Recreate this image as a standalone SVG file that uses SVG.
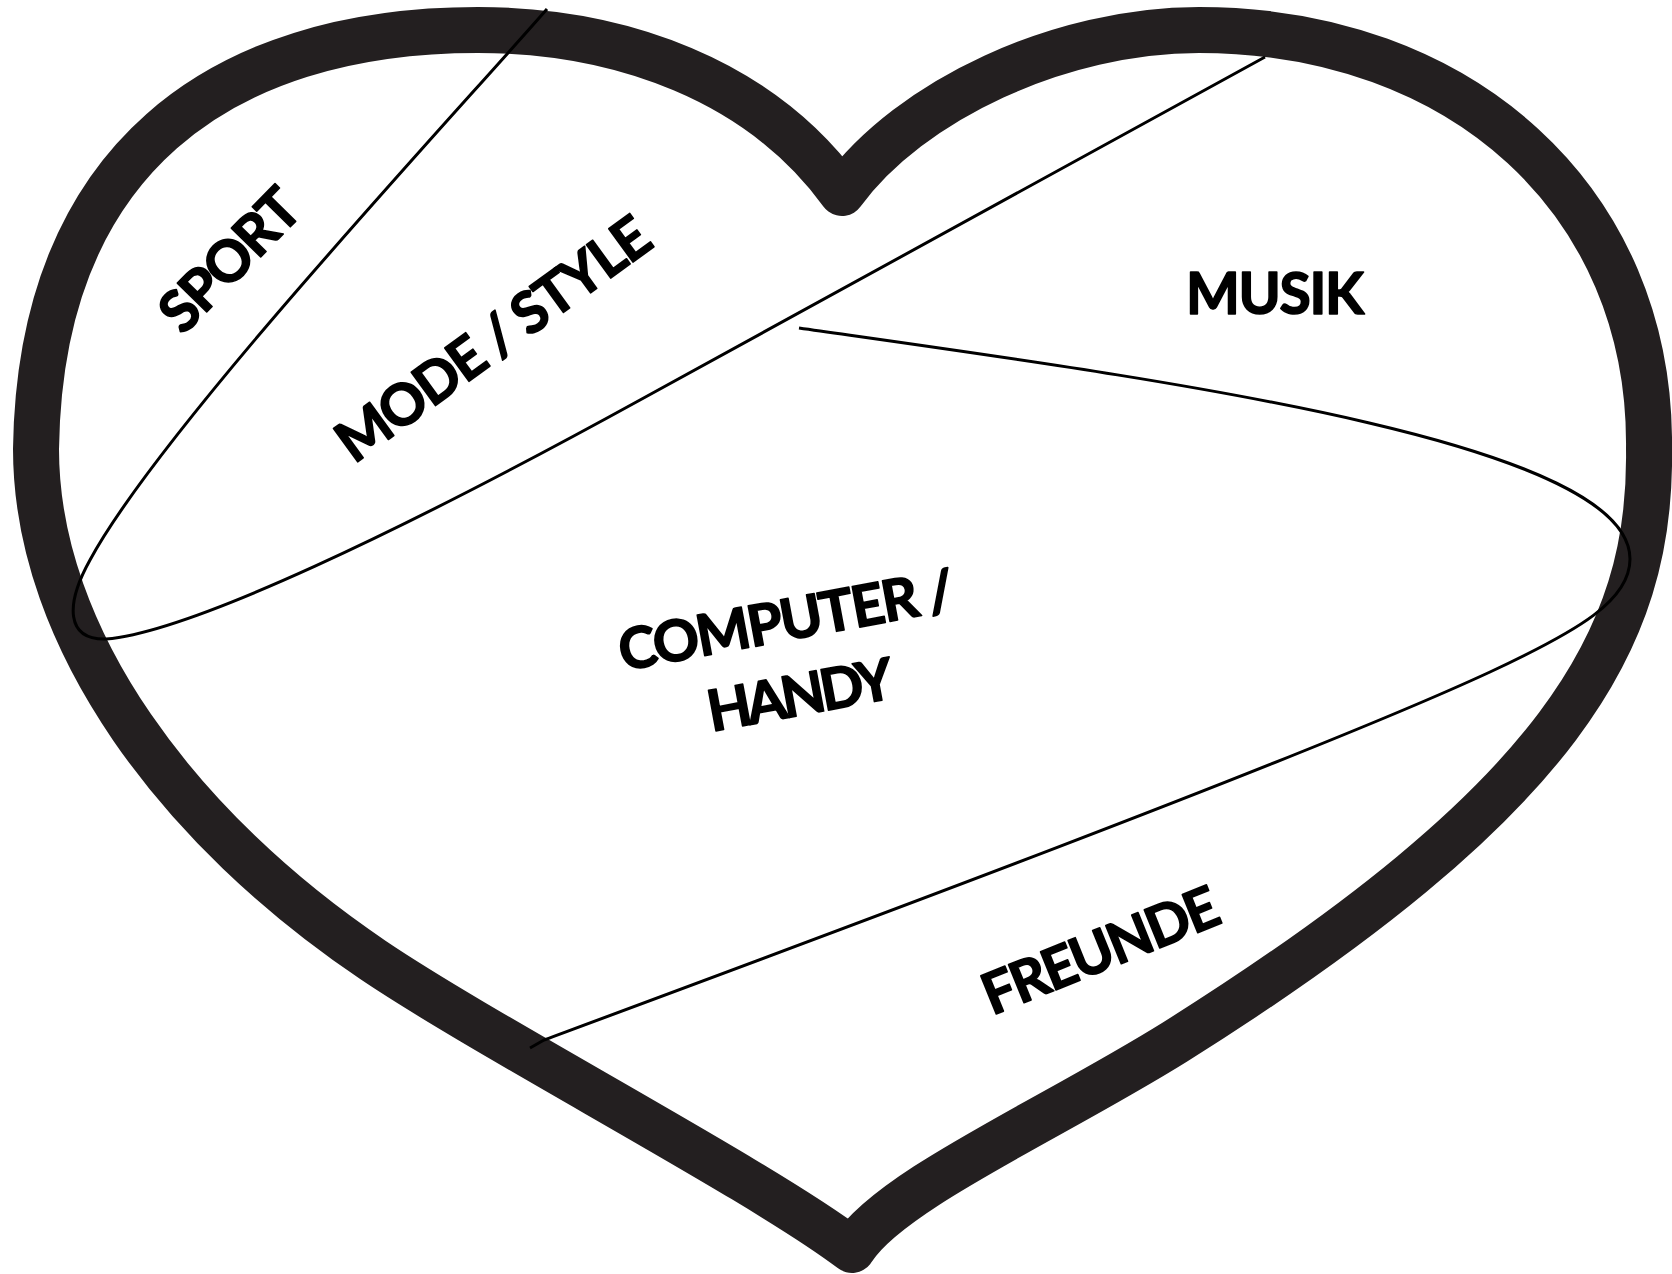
<svg xmlns="http://www.w3.org/2000/svg" width="1672" height="1274" viewBox="0 0 1672 1274">
<style>
.heart{fill:none;stroke:#231f20;stroke-width:46;stroke-linejoin:round;stroke-linecap:round}
.div{fill:none;stroke:#000;stroke-width:3;stroke-linecap:butt;stroke-linejoin:round}
.lbl{font-family:Lato,"Liberation Sans",sans-serif;font-weight:700;font-size:57px;fill:#000;stroke:#000;stroke-width:1.6;stroke-linejoin:round;text-anchor:middle}
</style>
<rect width="1672" height="1274" fill="#fff"/>
<g id="heart">
<path class="heart" d="M842,193 C760,80 620,30 478,30 C220,30 40,160 36,449 C36,640 180,830 373,960 C490,1039 760,1180 852,1250 C890,1190 1050,1120 1175,1042 C1560,800 1652,640 1649,449 C1652,200 1460,30 1199,30 C1060,30 910,100 842,193 Z"/>
</g>
<g id="connectors">
<path class="div" d="M547,9 C450,120 160,430 90,560 C65,605 66,640 106,639 C190,632 400,532 640,400 L1265,57"/>
<path class="div" d="M799,328 C1150,378 1630,440 1630,559 C1630,600 1580,630 1490,672 C1300,760 800,945 544,1040 L530,1048"/>
</g>
<g id="label-sport" transform="translate(244,274) rotate(-45.5)">
<text class="lbl" x="0" y="0" textLength="174" lengthAdjust="spacing">SPORT</text>
</g>
<g id="label-mode-style" transform="translate(505,355) rotate(-36)">
<text class="lbl" x="0" y="0" textLength="373" lengthAdjust="spacing">MODE / STYLE</text>
</g>
<g id="label-musik">
<text class="lbl" x="1275" y="314" textLength="178" lengthAdjust="spacing">MUSIK</text>
</g>
<g id="label-computer-handy" transform="translate(790,640) rotate(-10.5)">
<text class="lbl" x="0" y="0" textLength="340" lengthAdjust="spacing">COMPUTER /</text>
<text class="lbl" x="0" y="76" textLength="188" lengthAdjust="spacing">HANDY</text>
</g>
<g id="label-freunde" transform="translate(1108,969) rotate(-22)">
<text class="lbl" x="0" y="0" textLength="250" lengthAdjust="spacing">FREUNDE</text>
</g>
</svg>
